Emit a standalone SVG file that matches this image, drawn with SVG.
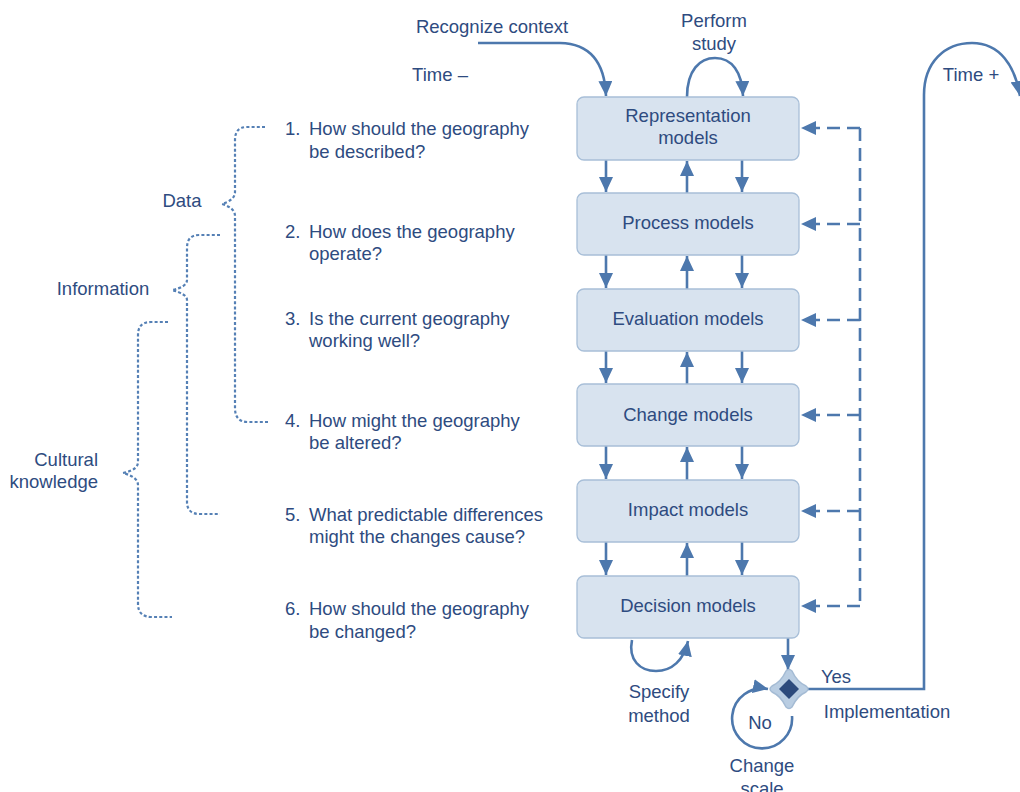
<svg xmlns="http://www.w3.org/2000/svg" width="1020" height="792" viewBox="0 0 1020 792">
<defs>
<style>
.t{font-family:"Liberation Sans",Arial,sans-serif;font-size:18.5px;fill:#2e4b80}
.m{text-anchor:middle}
.e{text-anchor:end}
.box{fill:#d8e3ef;stroke:#a8bfd8;stroke-width:1.3}
.ln{fill:none;stroke:#4d78ad;stroke-width:2.6}
.dash{fill:none;stroke:#4d78ad;stroke-width:2.6;stroke-dasharray:13 7}
.dot{fill:none;stroke:#5580b5;stroke-width:2.2;stroke-dasharray:3 2.2}
</style>
<marker id="ah" markerUnits="userSpaceOnUse" markerWidth="16" markerHeight="14" refX="15" refY="7" orient="auto">
<path d="M0,0 L15,7 L0,14 z" fill="#4d78ad"/>
</marker>
</defs>
<rect width="1020" height="792" fill="#ffffff"/>

<g id="connectors">
<path class="ln" d="M478 43 H560 Q604 44 606 96" marker-end="url(#ah)"/>
<path class="ln" d="M687 97 C687 70 700 58 715 58 C732 58 742 72 743 96" marker-end="url(#ah)"/>
<g>
<line class="ln" x1="606" y1="160" x2="606" y2="192" marker-end="url(#ah)"/>
<line class="ln" x1="687" y1="193" x2="687" y2="161" marker-end="url(#ah)"/>
<line class="ln" x1="742" y1="160" x2="742" y2="192" marker-end="url(#ah)"/>
<line class="ln" x1="606" y1="255" x2="606" y2="288" marker-end="url(#ah)"/>
<line class="ln" x1="687" y1="289" x2="687" y2="256" marker-end="url(#ah)"/>
<line class="ln" x1="742" y1="255" x2="742" y2="288" marker-end="url(#ah)"/>
<line class="ln" x1="606" y1="351" x2="606" y2="383" marker-end="url(#ah)"/>
<line class="ln" x1="687" y1="384" x2="687" y2="352" marker-end="url(#ah)"/>
<line class="ln" x1="742" y1="351" x2="742" y2="383" marker-end="url(#ah)"/>
<line class="ln" x1="606" y1="446" x2="606" y2="479" marker-end="url(#ah)"/>
<line class="ln" x1="687" y1="480" x2="687" y2="447" marker-end="url(#ah)"/>
<line class="ln" x1="742" y1="446" x2="742" y2="479" marker-end="url(#ah)"/>
<line class="ln" x1="606" y1="542" x2="606" y2="575" marker-end="url(#ah)"/>
<line class="ln" x1="687" y1="576" x2="687" y2="543" marker-end="url(#ah)"/>
<line class="ln" x1="742" y1="542" x2="742" y2="575" marker-end="url(#ah)"/>
</g>
<line class="dash" x1="860" y1="128" x2="860" y2="606"/>
<line class="dash" x1="860" y1="128" x2="801" y2="128" marker-end="url(#ah)"/>
<line class="dash" x1="860" y1="224" x2="801" y2="224" marker-end="url(#ah)"/>
<line class="dash" x1="860" y1="320" x2="801" y2="320" marker-end="url(#ah)"/>
<line class="dash" x1="860" y1="415" x2="801" y2="415" marker-end="url(#ah)"/>
<line class="dash" x1="860" y1="511" x2="801" y2="511" marker-end="url(#ah)"/>
<line class="dash" x1="860" y1="606" x2="801" y2="606" marker-end="url(#ah)"/>
<path class="ln" d="M632 640 C628 660 640 671 656 671 C672 671 684 660 688 641" marker-end="url(#ah)"/>
<line class="ln" x1="788" y1="638" x2="788" y2="670" marker-end="url(#ah)"/>
<path class="ln" d="M792 716 A30 30 0 1 1 768 689" marker-end="url(#ah)"/>
<path class="ln" d="M808 689 H924 V95 C924 62 945 43 972 43 C1000 43 1015 66 1020 96" marker-end="url(#ah)"/>
</g>

<g id="decision">
<path d="M786 671 Q789 668 792 671 Q797 682 806 686 Q810 689 806 692 Q797 696 792 707 Q789 710 786 707 Q781 696 772 692 Q768 689 772 686 Q781 682 786 671 Z" fill="#b9cde2" stroke="#a4bbd4" stroke-width="1.5" stroke-linejoin="round"/>
<path d="M789 679 L799 689 L789 699 L779 689 Z" fill="#2c4a7c"/>
</g>

<g id="n1"><rect class="box" x="577" y="97" width="222" height="63" rx="7"/><text class="t m" x="688" y="122">Representation</text><text class="t m" x="688" y="144">models</text></g>
<g id="n2"><rect class="box" x="577" y="193" width="222" height="62" rx="7"/><text class="t m" x="688" y="229">Process models</text></g>
<g id="n3"><rect class="box" x="577" y="289" width="222" height="62" rx="7"/><text class="t m" x="688" y="325">Evaluation models</text></g>
<g id="n4"><rect class="box" x="577" y="384" width="222" height="62" rx="7"/><text class="t m" x="688" y="421">Change models</text></g>
<g id="n5"><rect class="box" x="577" y="480" width="222" height="62" rx="7"/><text class="t m" x="688" y="516">Impact models</text></g>
<g id="n6"><rect class="box" x="577" y="576" width="222" height="62" rx="7"/><text class="t m" x="688" y="612">Decision models</text></g>

<g id="labels">
<text class="t m" x="492" y="33">Recognize context</text>
<text class="t m" x="714" y="27">Perform</text>
<text class="t m" x="714" y="50">study</text>
<text class="t m" x="440" y="81">Time –</text>
<text class="t m" x="971" y="81">Time +</text>
<text class="t m" x="836" y="683">Yes</text>
<text class="t m" x="887" y="718">Implementation</text>
<text class="t m" x="760" y="729">No</text>
<text class="t m" x="762" y="772">Change</text>
<text class="t m" x="762" y="795">scale</text>
<text class="t m" x="659" y="698">Specify</text>
<text class="t m" x="659" y="722">method</text>
</g>

<g id="questions">
<text class="t" x="285" y="135">1.</text><text class="t" x="309" y="135">How should the geography</text><text class="t" x="309" y="158">be described?</text>
<text class="t" x="285" y="238">2.</text><text class="t" x="309" y="238">How does the geography</text><text class="t" x="309" y="260">operate?</text>
<text class="t" x="285" y="325">3.</text><text class="t" x="309" y="325">Is the current geography</text><text class="t" x="309" y="347">working well?</text>
<text class="t" x="285" y="427">4.</text><text class="t" x="309" y="427">How might the geography</text><text class="t" x="309" y="449">be altered?</text>
<text class="t" x="285" y="521">5.</text><text class="t" x="309" y="521">What predictable differences</text><text class="t" x="309" y="543">might the changes cause?</text>
<text class="t" x="285" y="615">6.</text><text class="t" x="309" y="615">How should the geography</text><text class="t" x="309" y="638">be changed?</text>
</g>

<g id="braces">
<path class="dot" d="M265 127 H247 Q235 127 235 140 V192 Q235 200 222 204 Q235 208 235 216 V408 Q235 422 248 422 H268"/>
<path class="dot" d="M220 235 H199 Q187 235 187 248 V280 Q187 287 172 290 Q187 294 187 300 V502 Q187 514 200 514 H220"/>
<path class="dot" d="M168 322 H151 Q138 322 138 335 V462 Q138 470 123 473 Q138 477 138 485 V604 Q138 617 152 617 H172"/>
<text class="t m" x="182" y="207">Data</text>
<text class="t m" x="103" y="295">Information</text>
<text class="t e" x="98" y="466">Cultural</text>
<text class="t e" x="98" y="488">knowledge</text>
</g>
</svg>
